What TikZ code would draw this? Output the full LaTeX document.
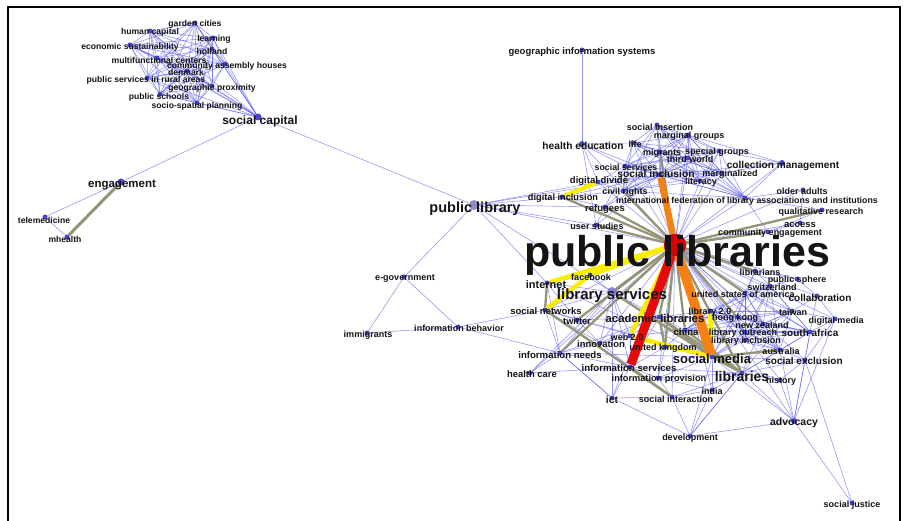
\documentclass[tikz,border=0pt]{standalone}
\usepackage{fontspec}
\setmainfont{Liberation Sans}
\pgfdeclarelayer{edgelayer}
\pgfsetlayers{edgelayer,main}
\definecolor{edgeblue}{RGB}{85,85,235}
\definecolor{edgegray}{RGB}{150,148,118}
\definecolor{edgeyellow}{RGB}{250,238,0}
\definecolor{edgeorange}{RGB}{245,128,20}
\definecolor{edgered}{RGB}{230,10,10}
\definecolor{dotblue}{RGB}{50,50,200}
\definecolor{labelc}{RGB}{20,20,20}
\tikzset{
  blueedge/.style={draw=edgeblue, opacity=0.6, line width=0.6pt},
  grayedge/.style={draw=edgegray, line width=2.3pt},
  yellowedge/.style={draw=edgeyellow, line width=4.5pt},
  orangeedge/.style={draw=edgeorange, line width=#1},
  rededge/.style={draw=edgered, line width=9pt},
  dotn/.style={circle, fill=dotblue, inner sep=0pt, minimum size=5pt, opacity=0.9},
  labn/.style={inner sep=0pt, text=labelc},
}
\newcommand\placenode[8][]{%
  \node[dotn,#1] (#2) at (#3,#4) {};
  \node[labn, font={\fontsize{#7}{#7}\selectfont\bfseries}] (#2-l) at (#5,#6) {#8};}
\newcommand\allpairs[1]{%
  \foreach \a [count=\i] in {#1}{%
    \foreach \b [count=\j] in {#1}{%
      \ifnum\j>\i\relax \draw[blueedge] (\a) -- (\b);\fi}}}
\begin{document}
\begin{tikzpicture}[x=1pt,y=-1pt]
\useasboundingbox (0,0) rectangle (903,521);
\draw[line width=1.6pt] (8,521) -- (8,7) -- (900,7) -- (900,521);
% ---- top-left cluster
\placenode[minimum size=7pt]{sc}{258}{117}{260}{121}{12}{social capital}
\placenode{gc}{195}{23}{195}{24}{8.6}{garden cities}
\placenode{hc}{150}{31}{150}{32}{8.6}{human capital}
\placenode{lr}{213}{38}{214}{39}{8.6}{learning}
\placenode{es}{130}{45}{130}{47}{8.6}{economic sustainability}
\placenode{ho}{212}{49}{212}{51}{8.6}{holland}
\placenode{mc}{157}{58}{159}{60}{8.6}{multifunctional centers}
\placenode{cah}{225}{64}{227}{66}{8.6}{community assembly houses}
\placenode{dk}{187}{71}{186}{72}{8.6}{denmark}
\placenode{psr}{147}{78}{146}{80}{8.6}{public services in rural areas}
\placenode{gp}{212}{86}{212}{88}{8.6}{geographic proximity}
\placenode{ps}{160}{94}{159}{97}{8.6}{public schools}
\placenode{ssp}{197}{103}{197}{106}{8.6}{socio-spatial planning}
% ---- left
\placenode[minimum size=7pt]{eng}{121}{182}{122}{185}{11.5}{engagement}
\placenode{tel}{45}{217}{44}{220}{8.6}{telemedicine}
\placenode{mh}{67}{237}{65}{239}{8.6}{mhealth}
% ---- middle
\placenode[minimum size=10pt,fill={rgb,255:red,130;green,130;blue,190}]{plib}{474}{205}{475}{209}{14.5}{public library}
\placenode{egov}{404}{277}{405}{279}{9}{e-government}
\placenode{imm}{367}{333}{368}{335}{9}{immigrants}
\placenode{ib}{458}{327}{459}{328}{9}{information behavior}
\placenode{gis}{582}{50}{582}{52}{9.5}{geographic information systems}
% ---- upper right
\placenode[minimum size=6pt]{he}{582}{144}{583}{146}{10.2}{health education}
\placenode{sins}{657}{125}{660}{127}{9}{social insertion}
\placenode{mg}{688}{135}{689}{136}{9}{marginal groups}
\placenode{life}{633}{143}{635}{144}{9}{life}
\placenode{mig}{660}{152}{662}{153}{9}{migrants}
\placenode{sg}{719}{151}{717}{152}{9}{special groups}
\placenode{tw}{688}{158}{690}{159}{9}{third world}
\placenode{ss}{625}{166}{626}{167}{8.8}{social services}
\placenode{si}{660}{175}{656}{174}{10.3}{social inclusion}
\placenode{mz}{722}{173}{730}{174}{9}{marginalized}
\placenode{lit}{700}{181}{701}{182}{9}{literacy}
\placenode[minimum size=6pt]{cm}{782}{163}{783}{166}{10.1}{collection management}
\placenode{dd}{598}{182}{599}{181}{9.5}{digital divide}
\placenode{cr}{623}{191}{625}{192}{9}{civil rights}
\placenode{di}{562}{197}{563}{198}{9.2}{digital inclusion}
\placenode{ifla}{745}{198}{747}{201}{8.8}{international federation of library associations and institutions}
\placenode{ref}{605}{207}{605}{209}{9.5}{refugees}
\placenode{us}{596}{225}{597}{226}{9}{user studies}
\placenode{oa}{803}{190}{802}{191}{9}{older adults}
\placenode{qr}{822}{210}{821}{212}{9}{qualitative research}
\placenode{acc}{800}{223}{800}{225}{9.5}{access}
\placenode{ce}{768}{232}{770}{233}{9}{community engagement}
% ---- hub
\placenode[minimum size=22pt,fill={rgb,255:red,215;green,0;blue,0},draw={rgb,255:red,140;green,0;blue,0},opacity=1]{pl}{675}{245}{677}{255}{43}{public libraries}
% ---- lower right
\placenode{fb}{590}{275}{591}{277}{9}{facebook}
\placenode{int}{547}{283}{546}{285}{11}{internet}
\placenode[minimum size=10pt,fill={rgb,255:red,120;green,120;blue,210}]{ls}{612}{292}{612}{296}{15}{library services}
\placenode{sn}{545}{310}{546}{311}{9.5}{social networks}
\placenode{twi}{577}{320}{577}{321}{9.2}{twitter}
\placenode{al}{659}{317}{655}{318}{11.3}{academic libraries}
\placenode{web}{630}{336}{627}{337}{9}{web 2.0}
\placenode{inn}{600}{343}{601}{344}{9.4}{innovation}
\placenode{uk}{665}{347}{663}{348}{9}{united kingdom}
\placenode{ineeds}{560}{353}{560}{355}{9.6}{information needs}
\placenode{hcare}{530}{373}{532}{374}{9.4}{health care}
\placenode{iserv}{630}{367}{629}{368}{9.7}{information services}
\placenode{ip}{658}{378}{659}{379}{9.2}{information provision}
\placenode{china}{685}{330}{686}{332}{9.5}{china}
\placenode{ltwo}{710}{311}{710}{312}{9}{library 2.0}
\placenode{hk}{737}{317}{735}{318}{9}{hong kong}
\placenode{lo}{745}{332}{743}{333}{9}{library outreach}
\placenode{li}{745}{340}{746}{341}{9}{library inclusion}
\placenode{nz}{763}{324}{762}{325}{9}{new zealand}
\placenode{libr}{755}{271}{760}{272}{9}{librarians}
\placenode{psph}{797}{279}{797}{280}{9}{public sphere}
\placenode{sw}{770}{286}{772}{287}{9}{switzerland}
\placenode{usa}{745}{293}{743}{294}{9}{united states of america}
\placenode{col}{817}{296}{820}{298}{10}{collaboration}
\placenode{tai}{792}{311}{793}{312}{9}{taiwan}
\placenode{dm}{835}{319}{836}{321}{9}{digital media}
\placenode{sa}{810}{332}{810}{333}{10}{south africa}
\placenode{au}{780}{350}{781}{351}{9}{australia}
\placenode{sex}{805}{360}{804}{361}{10}{social exclusion}
\placenode{sm}{712}{357}{712}{359}{13}{social media}
\placenode{libs}{742}{373}{742}{376}{14}{libraries}
\placenode{hist}{780}{380}{781}{381}{9}{history}
\placenode{india}{712}{390}{712}{391}{9}{india}
\placenode{sint}{672}{397}{676}{399}{9}{social interaction}
\placenode{ict}{612}{398}{612}{400}{10.3}{ict}
\placenode{dev}{690}{436}{690}{438}{9}{development}
\placenode[minimum size=6pt]{adv}{794}{421}{794}{423}{10.5}{advocacy}
\placenode{sj}{852}{503}{852}{505}{9}{social justice}
% ---- edges
\begin{pgfonlayer}{edgelayer}
\allpairs{gc,hc,lr,es,ho,mc,cah,dk,psr,gp,ps,ssp,sc}
\allpairs{sins,mg,life,mig,sg,tw,ss,si,mz,lit,ifla,cr}
\allpairs{hk,lo,li,nz,sw,usa,tai,sa,au,china,ltwo}
\foreach \b in {sins,mg,life,sg,tw,ss,mz,lit,cm,ifla,oa,acc,he,dd,fb,twi,inn,ineeds,ip,ltwo,lo,li,nz,psph,sw,col,tai,dm,sa,au,sex,hist,india,sint,ict,adv,plib,sn,web,hcare}
  \draw[blueedge] (pl) -- (\b);
\foreach \a/\b in {sc/plib,sc/eng,eng/tel,tel/mh,plib/egov,egov/imm,egov/ib,imm/ib,ib/sn,ib/ineeds,
  plib/di,plib/ref,plib/si,plib/dd,plib/int,plib/us,plib/ls,gis/he,he/us,he/ss,he/dd,he/life,he/si,
  ref/si,ref/cr,ref/ss,dd/si,dd/ss,dd/cr,di/si,di/cr,di/ref,cm/ifla,cm/si,cm/mz,cm/sg,cm/mg,
  oa/ifla,ifla/qr,ifla/ce,us/ref,us/si,oa/acc,qr/ce,acc/ce,
  psph/sw,psph/col,psph/libr,col/tai,col/dm,col/sa,dm/sa,dm/tai,libr/usa,libr/sw,libr/hk,
  sm/al,sm/sex,sm/hist,sm/adv,sm/hk,sm/nz,sm/usa,sm/ls,sm/twi,sm/sn,sm/int,sm/ineeds,sm/ip,sm/india,sm/dev,sm/li,sm/lo,
  libs/ls,libs/sex,libs/adv,libs/hist,libs/india,libs/sint,libs/sa,libs/au,libs/dev,libs/iserv,libs/ip,libs/nz,libs/tai,
  ls/fb,ls/int,ls/sn,ls/twi,ls/al,ls/inn,ls/ineeds,ls/web,ls/iserv,ls/ict,ls/hcare,
  al/web,al/china,al/ineeds,al/iserv,al/twi,al/inn,al/ltwo,al/hk,
  sn/twi,sn/fb,sn/inn,sn/ineeds,sn/iserv,int/fb,int/twi,int/ineeds,
  ineeds/hcare,ineeds/iserv,ineeds/inn,ineeds/ict,iserv/ip,iserv/ict,iserv/hcare,iserv/uk,iserv/web,iserv/inn,
  ip/sint,ip/india,ip/uk,sint/dev,sint/india,sint/ict,dev/ict,dev/india,dev/libs,dev/adv,
  adv/sex,adv/hist,adv/sa,adv/dm,adv/au,sj/adv,sj/sex,hist/sex,sex/au,sex/sa,sex/dm,
  web/uk,web/inn,web/china,uk/china,uk/sm,china/ltwo,twi/inn,ict/ineeds}
  \draw[blueedge] (\a) -- (\b);
\draw[grayedge, line width=3pt] (eng) -- (mh);
\foreach \b in {ref,cr,di,us,mig,ls,al,libs,usa,qr,ce,libr,china,uk,hk,twi,ineeds}
  \draw[grayedge] (pl) -- (\b);
\foreach \a/\b in {int/sn,sn/sint,al/libs,ls/sm,sm/au,libs/sm,al/sm,china/libs,iserv/sint,al/uk}
  \draw[grayedge] (\a) -- (\b);
\foreach \a/\b in {dd/di,pl/int,pl/fb,fb/sn,pl/web,web/sm,ltwo/sm}
  \draw[yellowedge] (\a) -- (\b);
\draw[orangeedge=6.5pt] (si) -- (pl);
\draw[orangeedge=9.5pt] (pl) -- (sm);
\draw[rededge] (pl) -- (iserv);
\end{pgfonlayer}
\end{tikzpicture}
\end{document}
